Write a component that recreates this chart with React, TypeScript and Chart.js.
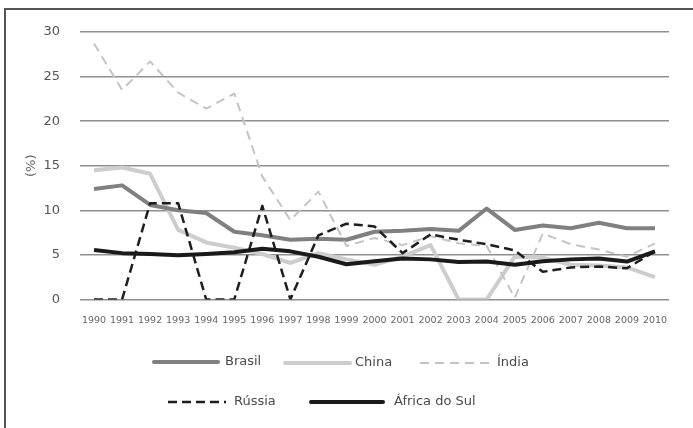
import React, { useEffect, useRef } from "react";
import { Chart, registerables } from "chart.js";

Chart.register(...registerables);

const years = ["1990","1991","1992","1993","1994","1995","1996","1997","1998","1999","2000","2001","2002","2003","2004","2005","2006","2007","2008","2009","2010"];
const brasil = [12.4, 12.8, 10.6, 10.0, 9.7, 7.6, 7.2, 6.7, 6.8, 6.7, 7.6, 7.7, 7.9, 7.7, 10.2, 7.8, 8.3, 8.0, 8.6, 8.0, 8.0];
const china = [14.5, 14.8, 14.1, 7.8, 6.4, 5.8, 5.1, 4.1, 5.2, 4.5, 3.9, 4.8, 6.1, 0, 0, 4.8, 4.7, 3.9, 3.8, 3.6, 2.5];
const india = [28.7, 23.5, 26.7, 23.2, 21.4, 23.1, 13.8, 8.9, 12.1, 6.0, 6.9, 6.1, 7.1, 6.3, 6.0, 0.2, 7.4, 6.2, 5.6, 4.8, 6.3];
const russia = [0, 0, 10.8, 10.8, 0, 0, 10.5, 0, 7.2, 8.5, 8.2, 5.2, 7.3, 6.7, 6.2, 5.5, 3.1, 3.6, 3.7, 3.5, 5.4];
const africa = [5.55, 5.2, 5.1, 4.95, 5.1, 5.3, 5.7, 5.4, 4.8, 3.95, 4.3, 4.6, 4.5, 4.2, 4.25, 3.9, 4.3, 4.5, 4.6, 4.25, 5.4];
const yTicks = [0, 5, 10, 15, 20, 25, 30];

const FONT = "'DejaVu Sans', sans-serif";

// legend layout: [datasetIndex, x1, x2, y, textX]
const legendLayout = [
  [0, 54, 118, 362, 125],
  [1, 185, 250, 363, 255],
  [2, 320, 390, 363, 397],
  [3, 68, 126, 402, 134],
  [4, 211, 283, 402, 294],
];

const legendPlugin = {
  id: "customLegend",
  afterDraw(chart: any) {
    const ctx = chart.ctx;
    const ox = 100;
    ctx.save();
    legendLayout.forEach(([i, x1, x2, y, tx]) => {
      const ds: any = chart.data.datasets[i];
      ctx.beginPath();
      ctx.strokeStyle = ds.borderColor;
      ctx.lineWidth = ds.borderWidth;
      ctx.setLineDash(ds.borderDash || []);
      ctx.lineCap = ds.borderDash ? "butt" : "round";
      ctx.moveTo(x1 + ox, y);
      ctx.lineTo(x2 + ox, y);
      ctx.stroke();
      ctx.setLineDash([]);
      ctx.fillStyle = "#4a4a4a";
      ctx.font = `13px ${FONT}`;
      ctx.textBaseline = "middle";
      ctx.textAlign = "left";
      ctx.fillText(ds.label, tx + ox, y);
    });
    ctx.restore();
  },
};

export default function App() {
  const ref = useRef<HTMLCanvasElement>(null);
  useEffect(() => {
    const chart = new Chart(ref.current!, {
      type: "line",
      data: {
        labels: years,
        datasets: [
          { label: "Brasil", data: brasil, borderColor: "#808080", borderWidth: 4, order: 4 },
          { label: "China", data: china, borderColor: "#cdcdcd", borderWidth: 4, order: 5 },
          { label: "Índia", data: india, borderColor: "#c4c4c4", borderWidth: 2, borderDash: [9, 6], order: 3 },
          { label: "Rússia", data: russia, borderColor: "#1e1e1e", borderWidth: 2.5, borderDash: [9, 5], order: 2 },
          { label: "África do Sul", data: africa, borderColor: "#1a1a1a", borderWidth: 4, order: 1 },
        ] as any,
      },
      options: {
        animation: false,
        responsive: false,
        maintainAspectRatio: false,
        elements: { point: { radius: 0, hoverRadius: 0 }, line: { tension: 0, borderJoinStyle: "round" } },
        layout: { padding: { left: 0, top: 32, right: 24, bottom: 0 } },
        plugins: { legend: { display: false }, tooltip: { enabled: false } },
        scales: {
          x: {
            offset: true,
            grid: { display: false },
            border: { display: false },
            ticks: { font: { family: FONT, size: 9.5 }, color: "#666", maxRotation: 0, autoSkip: false, padding: 7 },
            afterFit: (s: any) => { s.height = 128.5; },
          },
          y: {
            min: 0,
            max: 30,
            afterBuildTicks: (s: any) => { s.ticks = yTicks.map((v) => ({ value: v })); },
            grid: { color: "#8f8f8f", lineWidth: 1.5, drawTicks: false },
            border: { display: false },
            ticks: { font: { family: FONT, size: 13 }, color: "#555", padding: 20 },
            title: { display: true, text: "(%)", font: { family: FONT, size: 13 }, color: "#666", padding: { top: 24, bottom: 0 } },
            afterFit: (s: any) => { s.width = 80; },
          },
        },
      } as any,
      plugins: [legendPlugin],
    });
    return () => chart.destroy();
  }, []);
  return (
    <div>
      <div style={{ position: "fixed", left: 4, top: 8, width: 800, height: 800, borderLeft: "2px solid #555", borderTop: "2px solid #555", boxSizing: "border-box" }} />
      <canvas ref={ref} width={693} height={428} style={{ position: "fixed", left: 0, top: 0, width: 693, height: 428 }} />
    </div>
  );
}
